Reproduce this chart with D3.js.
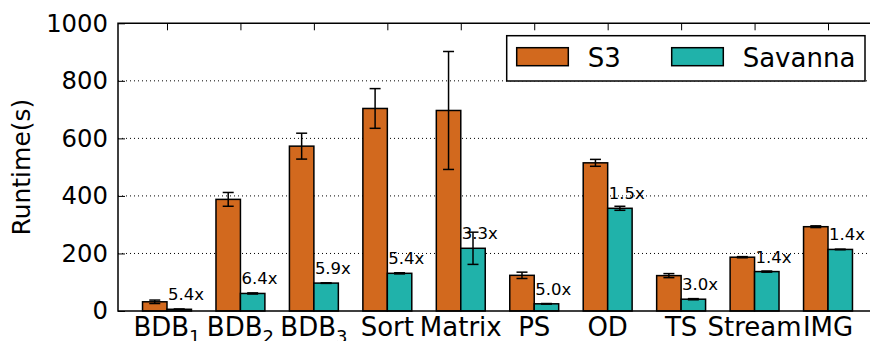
<!DOCTYPE html>
<html>
<head>
<meta charset="utf-8">
<script src="https://cdn.jsdelivr.net/npm/d3@7"></script>
<style>
    body { margin: 0; background: #fff; }
    svg { display: block; }
</style>
</head>
<body>
<script>
// workloads (subscript part kept separately)
var categories = ["BDB", "BDB", "BDB", "Sort", "Matrix", "PS", "OD", "TS", "Stream", "IMG"]
var subscripts = ["1", "2", "3", "", "", "", "", "", "", ""]

// runtimes in seconds
var s3Values = [32, 388, 573, 704, 697, 124, 515, 123, 187, 293]
var s3Errors = [6, 24, 45, 69, 205, 11, 12, 7, 2, 3]
var savannaValues = [6, 61, 97, 131, 218, 25, 357, 41, 137, 214]
var savannaErrors = [1, 2, 1, 2, 56, 1, 7, 2, 2, 1]
var speedups = ["5.4x", "6.4x", "5.9x", "5.4x", "3.3x", "5.0x", "1.5x", "3.0x", "1.4x", "1.4x"]

var seriesNames = ["S3", "Savanna"]
var yTicks = [0, 200, 400, 600, 800, 1000]

// image dimensions
var w = 870
var h = 341
var font = "'DejaVu Sans', sans-serif"
var colors = { "S3": "#d2691e", "Savanna": "#20b2aa" }

var svg = d3.select("body")
    .append("svg")
    .attr("width", w)
    .attr("height", h)

// plot area (right edge runs past the picture)
var plotLeft = 118, plotRight = 877, plotTop = 23.3, plotBottom = 311

var xScale = d3.scaleLinear()
    .domain([-0.667, 9.667])
    .range([plotLeft, plotRight])

var yScale = d3.scaleLinear()
    .domain([0, 1000])
    .range([plotBottom, plotTop])

var barW = xScale(1) - xScale(0.667)

// grid lines
svg.append("g")
    .selectAll("line")
    .data(yTicks.filter(function(d) { return d > 0 && d < 1000 }))
    .enter()
    .append("line")
    .attr("x1", plotLeft)
    .attr("x2", plotRight)
    .attr("y1", function(d) { return yScale(d) })
    .attr("y2", function(d) { return yScale(d) })
    .attr("stroke", "#000")
    .attr("stroke-width", 1)
    .attr("stroke-dasharray", "1,3")

// y tick marks and labels
var yAxis = d3.axisLeft(yScale)
    .tickValues(yTicks)
    .tickSize(-7)
    .tickPadding(10)
    .tickFormat(d3.format("d"))

var gy = svg.append("g")
    .attr("transform", "translate(" + plotLeft + ",0)")
    .call(yAxis)
gy.select(".domain").remove()
gy.selectAll("line").attr("stroke", "#000").attr("stroke-width", 1)
gy.selectAll("text")
    .attr("font-size", 24.3)
    .attr("font-family", font)
    .attr("fill", "#000")

// x ticks on the top spine
var xTop = d3.axisTop(xScale)
    .tickValues(d3.range(categories.length))
    .tickSize(-7)
    .tickFormat("")
var gx = svg.append("g")
    .attr("transform", "translate(0," + plotTop + ")")
    .call(xTop)
gx.select(".domain").remove()
gx.selectAll("line").attr("stroke", "#000").attr("stroke-width", 1)

// bars
var idx = d3.range(categories.length)

function drawSeries(values, errors, name, offset) {
    var g = svg.append("g")
    g.selectAll("rect")
        .data(idx)
        .enter()
        .append("rect")
        .attr("x", function(i) { return xScale(i) + offset * barW })
        .attr("y", function(i) { return yScale(values[i]) })
        .attr("width", barW)
        .attr("height", function(i) { return yScale(0) - yScale(values[i]) })
        .attr("fill", colors[name])
        .attr("stroke", "#000")
        .attr("stroke-width", 1.5)

    // error bars
    var eb = g.selectAll(".err")
        .data(idx)
        .enter()
        .append("g")
        .attr("stroke", "#000")
        .attr("stroke-width", 1.5)
    var cx = function(i) { return xScale(i) + offset * barW + barW / 2 }
    eb.append("line")
        .attr("x1", cx).attr("x2", cx)
        .attr("y1", function(i) { return yScale(values[i] + errors[i]) })
        .attr("y2", function(i) { return yScale(values[i] - errors[i]) })
    eb.append("line")
        .attr("x1", function(i) { return cx(i) - 5.5 })
        .attr("x2", function(i) { return cx(i) + 5.5 })
        .attr("y1", function(i) { return yScale(values[i] + errors[i]) })
        .attr("y2", function(i) { return yScale(values[i] + errors[i]) })
    eb.append("line")
        .attr("x1", function(i) { return cx(i) - 5.5 })
        .attr("x2", function(i) { return cx(i) + 5.5 })
        .attr("y1", function(i) { return yScale(values[i] - errors[i]) })
        .attr("y2", function(i) { return yScale(values[i] - errors[i]) })
}

drawSeries(s3Values, s3Errors, "S3", -1)
drawSeries(savannaValues, savannaErrors, "Savanna", 0)

// speedup labels above the Savanna bars
svg.append("g")
    .selectAll("text")
    .data(idx)
    .enter()
    .append("text")
    .attr("x", function(i) { return xScale(i) + 1 })
    .attr("y", function(i) { return yScale(savannaValues[i]) - 9 })
    .attr("font-size", 16.5)
    .attr("font-family", font)
    .text(function(i) { return speedups[i] })

// spines
svg.append("path")
    .attr("d", "M" + plotRight + "," + plotTop + "H" + plotLeft + "V" + plotBottom + "H" + plotRight)
    .attr("fill", "none")
    .attr("stroke", "#000")
    .attr("stroke-width", 1.5)

// category labels
var cat = svg.append("g")
    .selectAll("text")
    .data(idx)
    .enter()
    .append("text")
    .attr("x", function(i) { return xScale(i) })
    .attr("y", 335.5)
    .attr("text-anchor", "middle")
    .attr("font-size", 26)
    .attr("font-family", font)
cat.append("tspan").text(function(i) { return categories[i] })
cat.filter(function(i) { return subscripts[i] !== "" })
    .append("tspan")
    .attr("dy", 7)
    .attr("font-size", 18)
    .text(function(i) { return subscripts[i] })

// y axis label
svg.append("text")
    .attr("text-anchor", "middle")
    .attr("transform", "translate(30," + ((plotTop + plotBottom) / 2) + ") rotate(-90)")
    .attr("font-size", 25)
    .attr("font-family", font)
    .text("Runtime(s)")

// legend
var legend = svg.append("g")
legend.append("rect")
    .attr("x", 506.7)
    .attr("y", 35.7)
    .attr("width", 358.3)
    .attr("height", 45.3)
    .attr("fill", "#fff")
    .attr("stroke", "#000")
    .attr("stroke-width", 1.5)

var legendX = [516.7, 671.7]
seriesNames.forEach(function(name, k) {
    legend.append("rect")
        .attr("x", legendX[k])
        .attr("y", 47.7)
        .attr("width", 51.6)
        .attr("height", 18)
        .attr("fill", colors[name])
        .attr("stroke", "#000")
        .attr("stroke-width", 1.5)
    legend.append("text")
        .attr("x", legendX[k] + 71)
        .attr("y", 66.5)
        .attr("font-size", 26)
        .attr("font-family", font)
        .text(name)
})
</script>
</body>
</html>
